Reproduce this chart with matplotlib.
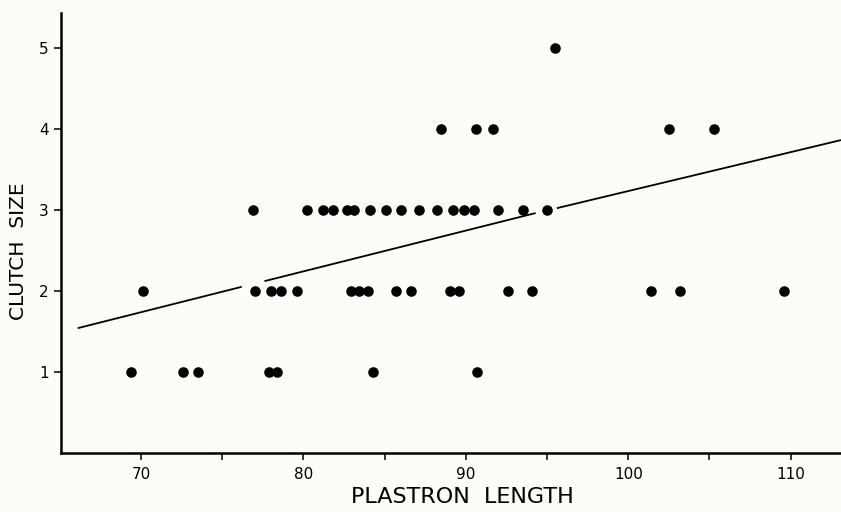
import matplotlib
matplotlib.use("Agg")
import matplotlib.pyplot as plt

# Data
x_clutch1 = [69.4, 72.6, 73.5, 77.9, 78.4, 84.3, 90.7]
x_clutch2 = [70.1, 77.0, 78.0, 78.6, 79.6, 82.9, 83.4, 84.0, 85.7, 86.6,
             89.0, 89.6, 92.6, 94.1, 101.4, 103.2, 109.6]
x_clutch3 = [76.9, 80.2, 81.2, 81.8, 82.7, 83.1, 84.1, 85.1, 86.0, 87.1,
             88.2, 89.2, 89.9, 90.5, 92.0, 93.5, 95.0]
x_clutch4 = [88.5, 90.6, 91.7, 102.5, 105.3]
x_clutch5 = [95.5]
clutch_sizes = [1, 2, 3, 4, 5]

# Regression line, drawn in broken segments as in the original
line_seg_x = [[66.1, 76.2], [77.6, 94.3], [95.6, 113.1]]
line_seg_y = [[1.54, 2.05], [2.12, 2.96], [3.02, 3.86]]

x_major = [70, 80, 90, 100, 110]
x_minor = [75, 85, 95, 105]
y_ticks = [1, 2, 3, 4, 5]

bg = '#fcfcf8'
fig = plt.figure(figsize=(8.41, 5.12), dpi=100, facecolor=bg)
ax = fig.add_axes([0.0725, 0.1152, 0.9275, 0.8598], facecolor=bg)

for xs, yv in zip([x_clutch1, x_clutch2, x_clutch3, x_clutch4, x_clutch5], clutch_sizes):
    ax.scatter(xs, [yv] * len(xs), s=58, color='black', zorder=3, linewidths=0)

for sx, sy in zip(line_seg_x, line_seg_y):
    ax.plot(sx, sy, color='black', lw=1.3, zorder=2, solid_capstyle='butt')

ax.set_xlim(65.07, 113.1)
ax.set_ylim(0, 5.43)

for s in ['top', 'right']:
    ax.spines[s].set_visible(False)
for s in ['left', 'bottom']:
    ax.spines[s].set_linewidth(1.8)

font = 'DejaVu Sans'
ax.set_xticks(x_major)
ax.set_xticks(x_minor, minor=True)
ax.set_xticklabels([str(v) for v in x_major], fontsize=11, family=font)
ax.set_yticks(y_ticks)
ax.set_yticklabels([str(v) for v in y_ticks], fontsize=11, family=font)
ax.tick_params(axis='both', which='both', direction='out', length=5, width=1.1, color='black')
ax.tick_params(axis='x', which='both', pad=5)
ax.tick_params(axis='y', pad=4)

ax.set_xlabel('PLASTRON  LENGTH', fontsize=16, family=font)
ax.set_ylabel('CLUTCH  SIZE', fontsize=14.5, family=font)
ax.xaxis.label.set_verticalalignment('center')
ax.yaxis.label.set_verticalalignment('center')
ax.xaxis.set_label_coords(0.514, -0.10)
ax.yaxis.set_label_coords(-0.055, 0.459)

fig.savefig('out.png', dpi=100, facecolor=bg)
